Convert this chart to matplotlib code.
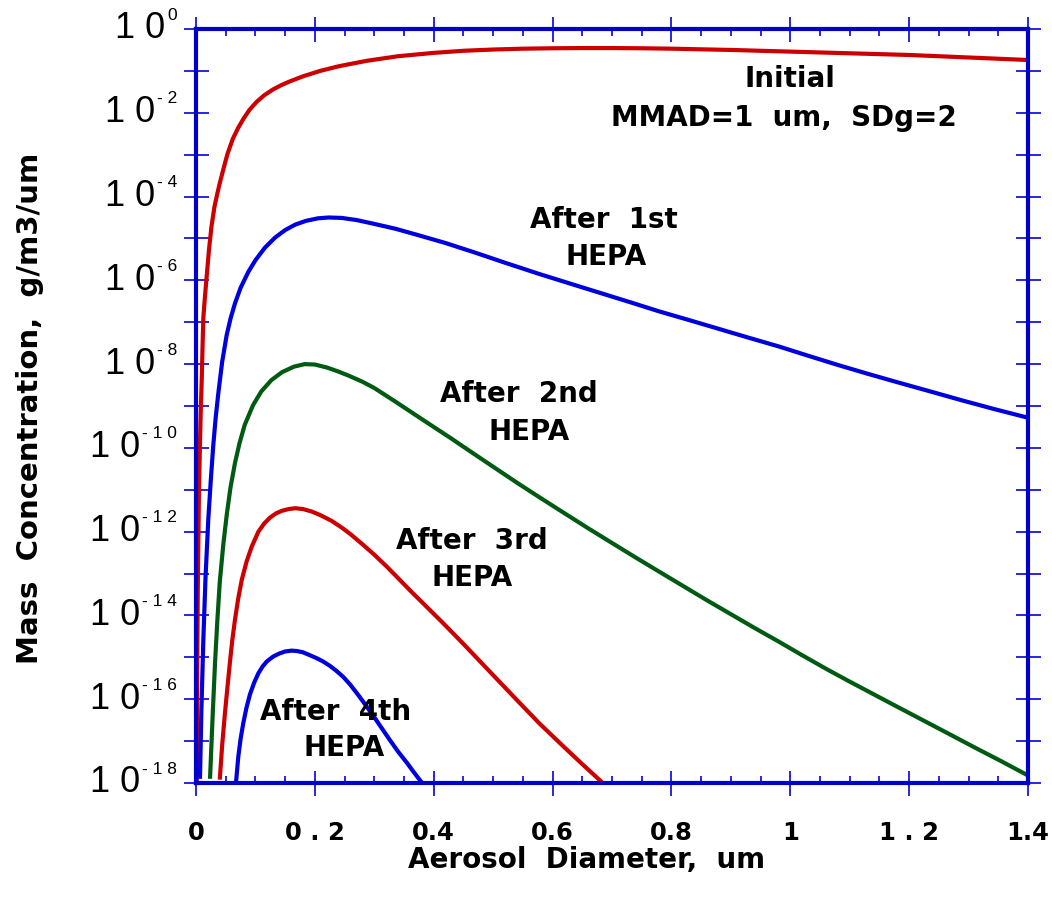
import matplotlib
matplotlib.use("Agg")
import matplotlib.pyplot as plt
import matplotlib.transforms as mtrans
import numpy as np

# ---------------- data ----------------
x_initial = [0.0013, 0.002, 0.003, 0.004, 0.005, 0.0067, 0.008, 0.0096, 0.011, 0.0123,
             0.015, 0.018, 0.022, 0.026, 0.031, 0.036, 0.040, 0.046, 0.053, 0.062,
             0.071, 0.080, 0.090, 0.102, 0.115, 0.13, 0.145, 0.158, 0.18, 0.209,
             0.24, 0.287, 0.34, 0.4, 0.45, 0.5, 0.55, 0.6, 0.65, 0.7, 0.75, 0.8,
             0.9, 1.0, 1.1, 1.2, 1.3, 1.4]
log_initial = [-18.3, -15.4, -13.4, -12.2, -11.0, -9.9, -9.1, -8.4, -7.6, -6.9,
               -6.4, -5.9, -5.25, -4.72, -4.25, -3.92, -3.68, -3.35, -2.98, -2.62,
               -2.36, -2.14, -1.93, -1.74, -1.58, -1.44, -1.33, -1.25, -1.13, -1.00,
               -0.89, -0.76, -0.65, -0.57, -0.52, -0.49, -0.47, -0.46, -0.455, -0.455, -0.46, -0.47,
               -0.50, -0.54, -0.58, -0.62, -0.68, -0.74]

x_hepa1 = [0.0067, 0.009, 0.0123, 0.016, 0.0207, 0.025, 0.029, 0.033, 0.0375, 0.044,
           0.0517, 0.058, 0.0656, 0.075, 0.088, 0.10, 0.116, 0.133, 0.150, 0.167,
           0.185, 0.205, 0.223, 0.245, 0.27, 0.296, 0.336, 0.376, 0.42, 0.47,
           0.52, 0.578, 0.63, 0.68, 0.73, 0.779, 0.83, 0.88, 0.93, 0.981,
           1.03, 1.08, 1.13, 1.182, 1.24, 1.29, 1.345, 1.4]
log_hepa1 = [-17.9, -16.3, -14.6, -13.1, -11.7, -10.75, -9.95, -9.3, -8.7, -7.95,
             -7.3, -6.92, -6.55, -6.18, -5.80, -5.52, -5.22, -4.98, -4.80, -4.67,
             -4.58, -4.52, -4.50, -4.51, -4.56, -4.64, -4.77, -4.93, -5.11, -5.34,
             -5.58, -5.85, -6.08, -6.30, -6.52, -6.74, -6.95, -7.16, -7.37, -7.58,
             -7.80, -8.02, -8.23, -8.44, -8.67, -8.87, -9.08, -9.28]

x_hepa2 = [0.0236, 0.028, 0.032, 0.036, 0.040, 0.046, 0.0517, 0.058, 0.0656, 0.073,
           0.082, 0.096, 0.110, 0.127, 0.145, 0.165, 0.183, 0.20, 0.22, 0.24,
           0.256, 0.28, 0.30, 0.336, 0.37, 0.40, 0.43, 0.457, 0.50, 0.54,
           0.578, 0.62, 0.66, 0.70, 0.739, 0.78, 0.82, 0.86, 0.900, 0.94,
           0.98, 1.02, 1.061, 1.10, 1.14, 1.18, 1.223, 1.27, 1.31, 1.355, 1.4]
log_hepa2 = [-17.9, -16.4, -15.14, -14.1, -13.2, -12.3, -11.6, -10.95, -10.36, -9.9,
             -9.45, -8.98, -8.65, -8.38, -8.19, -8.06, -8.00, -8.01, -8.08, -8.18,
             -8.27, -8.42, -8.57, -8.90, -9.22, -9.50, -9.78, -10.04, -10.45, -10.83,
             -11.18, -11.56, -11.92, -12.27, -12.61, -12.96, -13.30, -13.64, -13.97, -14.30,
             -14.62, -14.95, -15.28, -15.58, -15.88, -16.18, -16.50, -16.85, -17.15, -17.48, -17.82]

x_hepa3 = [0.040, 0.044, 0.0488, 0.053, 0.057, 0.061, 0.0656, 0.071, 0.077, 0.085,
           0.0937, 0.105, 0.115, 0.125, 0.135, 0.145, 0.156, 0.167, 0.18, 0.195,
           0.21, 0.228, 0.245, 0.26, 0.28, 0.30, 0.32, 0.336, 0.36, 0.39,
           0.417, 0.45, 0.497, 0.54, 0.578, 0.62, 0.65, 0.683]
log_hepa3 = [-17.92, -17.1, -16.32, -15.7, -15.13, -14.6, -14.1, -13.6, -13.15, -12.72,
             -12.36, -12.0, -11.8, -11.66, -11.56, -11.5, -11.46, -11.44, -11.46, -11.52,
             -11.61, -11.74, -11.9, -12.06, -12.3, -12.55, -12.82, -13.05, -13.4, -13.82,
             -14.2, -14.68, -15.38, -16.02, -16.58, -17.15, -17.55, -17.98]

x_hepa4 = [0.0673, 0.0712, 0.075, 0.0796, 0.085, 0.0909, 0.098, 0.105, 0.112, 0.119,
           0.13, 0.14, 0.15, 0.161, 0.17, 0.18, 0.19, 0.203, 0.214, 0.225,
           0.236, 0.248, 0.26, 0.273, 0.287, 0.30, 0.313, 0.326, 0.34, 0.355,
           0.368, 0.380]
log_hepa4 = [-17.99, -17.37, -16.95, -16.57, -16.2, -15.88, -15.6, -15.38, -15.22, -15.1,
             -14.98, -14.91, -14.86, -14.84, -14.85, -14.88, -14.94, -15.02, -15.1, -15.2,
             -15.32, -15.47, -15.66, -15.9, -16.17, -16.43, -16.7, -16.97, -17.25, -17.52,
             -17.77, -17.99]

curve_colors = ["#CC0000", "#0000DD", "#005A12", "#CC0000", "#0000DD"]

x_ticks = [0, 0.2, 0.4, 0.6, 0.8, 1.0, 1.2, 1.4]
x_tick_labels = ["0", "0 . 2", "0.4", "0.6", "0.8", "1", "1 . 2", "1.4"]
y_exponents = list(range(0, -19, -1))
y_label_exponents = [0, -2, -4, -6, -8, -10, -12, -14, -16, -18]
y_sup_labels = ["0", "- 2", "- 4", "- 6", "- 8", "- 1 0", "- 1 2", "- 1 4", "- 1 6", "- 1 8"]

annotations = [
    ("Initial", 1.0, -1.19),
    ("MMAD=1  um,  SDg=2", 0.9886, -2.12),
    ("After  1st", 0.6865, -4.56),
    ("HEPA", 0.69, -5.44),
    ("After  2nd", 0.5426, -8.71),
    ("HEPA", 0.560, -9.62),
    ("After  3rd", 0.465, -12.22),
    ("HEPA", 0.465, -13.11),
    ("After  4th", 0.234, -16.30),
    ("HEPA", 0.249, -17.16),
]

x_label = "Aerosol  Diameter,  um"
y_label = "Mass  Concentration,  g/m3/um"

# ---------------- figure ----------------
plt.rcParams['font.family'] = ['DejaVu Sans']
W, H = 1052, 907
fig = plt.figure(figsize=(W / 100, H / 100), dpi=100)
left, right, top, bottom = 196, 1028, 29, 783
ax = fig.add_axes([left / W, 1 - bottom / H, (right - left) / W, (bottom - top) / H])

series = [(x_initial, log_initial), (x_hepa1, log_hepa1), (x_hepa2, log_hepa2),
          (x_hepa3, log_hepa3), (x_hepa4, log_hepa4)]
for (xs, ls), c in zip(series, curve_colors):
    ax.plot(xs, 10.0 ** np.array(ls), color=c, lw=3.0, solid_capstyle='butt',
            solid_joinstyle='round', zorder=3)

ax.set_yscale('log')
ax.set_xlim(0, 1.4)
ax.set_ylim(1e-18, 1e0)

spine_color = "#0000CC"
for s in ax.spines.values():
    s.set_color(spine_color)
    s.set_linewidth(3.0)
    s.set_zorder(5)

tick_color = "#2828DD"
ax.set_yticks([10.0 ** e for e in y_exponents])
ax.yaxis.set_minor_locator(matplotlib.ticker.NullLocator())
ax.tick_params(axis='y', which='major', direction='inout', length=18, width=1.4,
               color=tick_color, left=True, right=True, labelleft=False)

ax.set_xticks(x_ticks)
ax.set_xticklabels(x_tick_labels, fontsize=17.5, fontweight='bold')
ax.xaxis.set_minor_locator(matplotlib.ticker.MultipleLocator(0.05))
ax.tick_params(axis='x', which='major', direction='inout', length=18, width=1.4,
               color=tick_color, top=True, bottom=True, pad=18)
ax.tick_params(axis='x', which='minor', direction='in', length=5, width=1.4,
               color=tick_color, top=True, bottom=True)

for txt, xv, lv in annotations:
    ax.text(xv, 10.0 ** lv, txt, ha='center', va='center', fontsize=20,
            fontweight='bold', color='black', zorder=6)

# y tick labels: "1 0" with superscript exponent
fig.canvas.draw()
renderer = fig.canvas.get_renderer()
tick_font = ['Liberation Sans', 'DejaVu Sans']
for e, sup in zip(y_label_exponents, y_sup_labels):
    tr = mtrans.offset_copy(ax.get_yaxis_transform(), fig=fig, x=-19, y=14, units='dots')
    st = ax.text(0, 10.0 ** e, sup, transform=tr, ha='right', va='center',
                 fontsize=12.5, color='black', clip_on=False, family=tick_font)
    bb = st.get_window_extent(renderer)
    yd = ax.transData.transform((0.5, 10.0 ** e))[1]
    ax.text(bb.x0 - 2, yd, "1 0", transform=mtrans.IdentityTransform(), ha='right',
            va='center', fontsize=26, color='black', clip_on=False, family=tick_font)

fig.text(587 / W, 1 - 860 / H, x_label, ha='center', va='center', fontsize=20,
         fontweight='bold')
fig.text(30 / W, 1 - 408 / H, y_label, ha='center', va='center', fontsize=21,
         fontweight='bold', rotation=90)

fig.savefig("out.png", dpi=100)
